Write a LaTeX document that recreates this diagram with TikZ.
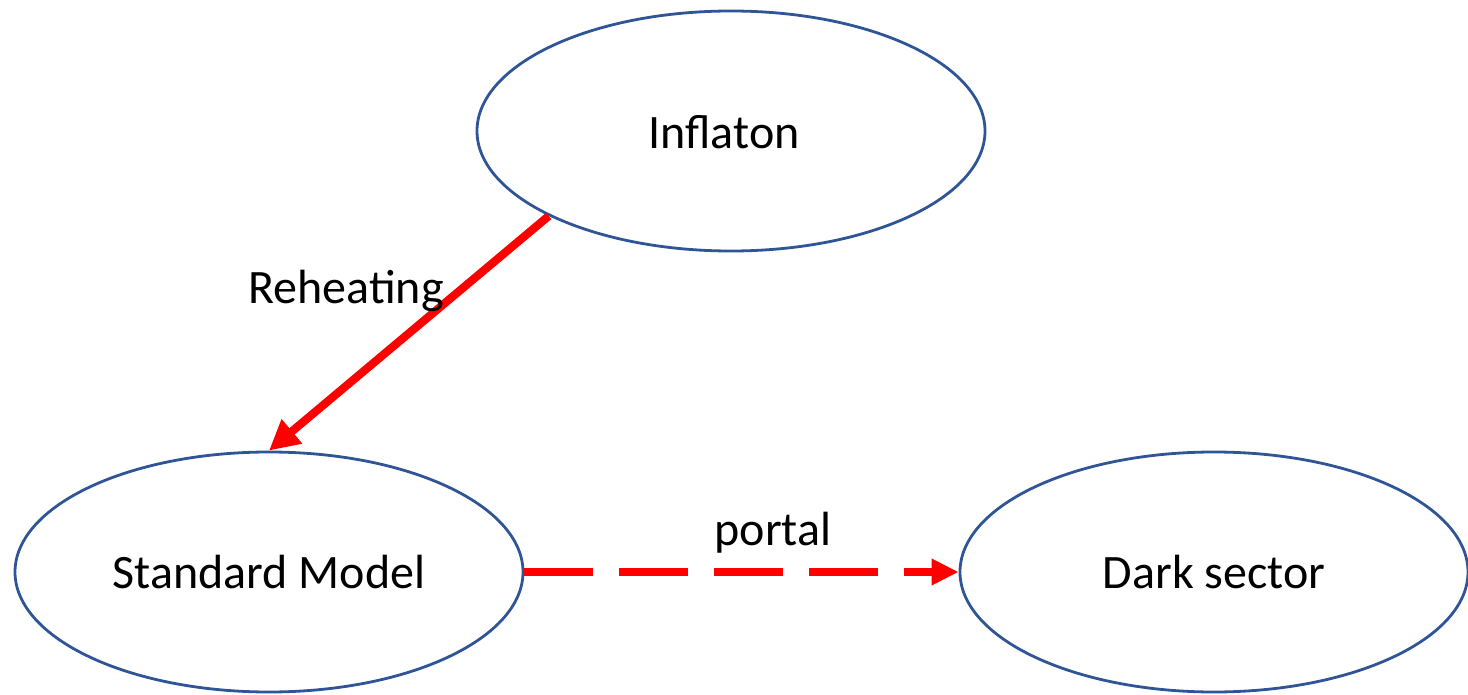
\documentclass[tikz,border=0pt]{standalone}
\usepackage{fontspec}
\setmainfont{Carlito}
\usetikzlibrary{shapes.geometric,arrows.meta}
\definecolor{ringblue}{HTML}{2F5597}
\definecolor{flowred}{HTML}{FF0000}
\tikzset{
  sector/.style={ellipse, draw=ringblue, line width=2.8pt, minimum width=508pt,
    minimum height=240pt, inner sep=0pt, font=\fontsize{48}{57}\selectfont},
  lbl/.style={font=\fontsize{48}{57}\selectfont, inner sep=0pt, anchor=base},
  flow/.style={draw=flowred, line width=8.2pt},
  flowtip/.style={-{Triangle[length=30pt,width=30pt]}},
  portaltip/.style={-{Triangle[length=27pt,width=25pt]}}
}
\begin{document}
\begin{tikzpicture}[x=1pt,y=-1pt]
  \useasboundingbox (0,0) rectangle (1468,695);
  % the three sectors
  \node[sector, label={[lbl, anchor=center, xshift=-7pt, yshift=-1pt]center:Inflaton}] (inf) at (731,131) {};
  \node[sector] (sm) at (269,572) {Standard Model};
  \node[sector] (dark) at (1214,572) {Dark sector};
  % reheating: inflaton decays into the Standard Model
  \draw[flow, flowtip] (inf.205) -- (sm.north);
  \node[lbl] (reh) at (346,303) {Reheating};
  % portal from the Standard Model to the dark sector
  \draw[flow, portaltip, dash pattern=on 69pt off 26pt] (sm.east) -- (dark.west);
  \node[lbl] (portal) at (773,545) {portal};
\end{tikzpicture}
\end{document}
